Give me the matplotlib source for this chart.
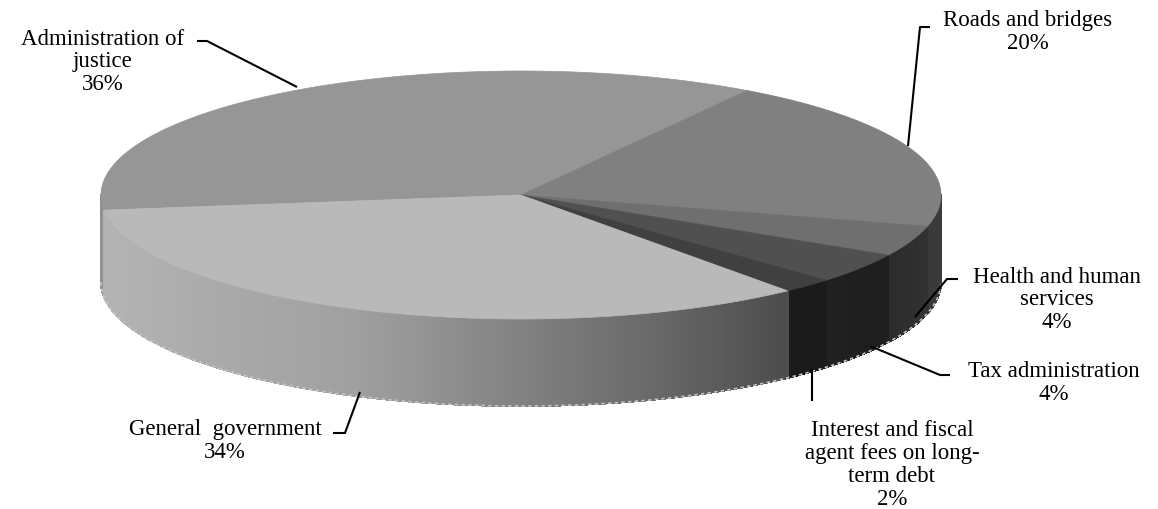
import numpy as np
import matplotlib
matplotlib.use("Agg")
from matplotlib import pyplot as plt
from matplotlib.collections import PolyCollection
from matplotlib.patches import Polygon

# data
categories = [
    "Administration of\njustice",
    "Roads and bridges",
    "Health and human\nservices",
    "Tax administration",
    "Interest and fiscal\nagent fees on long-\nterm debt",
    "General  government",
]
shares = [36, 20, 4, 4, 2, 34]
top_colors = ["#969696", "#808080", "#6f6f6f", "#505050", "#404040", "#b9b9b9"]

# pie geometry (pixel space, y down)
cx, cy = 521, 196
rx, ry = 420, 124
depth = 87
start = 187.0

# wall shading by x position
shade_x = [100, 360, 480, 650, 780, 880, 940]
shade_f = [0.97, 0.86, 0.74, 0.57, 0.42, 0.38, 0.46]


def ell(t):
    r = np.radians(t)
    return cx + rx * np.cos(r), cy - ry * np.sin(r)


def hex2rgb(h):
    h = h.lstrip("#")
    return np.array([int(h[k:k + 2], 16) for k in (0, 2, 4)]) / 255.0


fig = plt.figure(figsize=(11.58, 5.10), dpi=100)
ax = fig.add_axes([0, 0, 1, 1])
ax.set_xlim(0, 1158)
ax.set_ylim(510, 0)
ax.axis("off")

bounds = []
a = start
for v in shares:
    bounds.append((a, a - v * 3.6))
    a -= v * 3.6

# side walls
polys, cols = [], []
for (a0, a1), c in zip(bounds, top_colors):
    base = hex2rgb(c)
    ts = np.arange(a0, a1, -0.25)
    ts = np.append(ts, a1)
    for t0, t1 in zip(ts[:-1], ts[1:]):
        if np.sin(np.radians((t0 + t1) / 2)) >= 0:
            continue
        x0, y0 = ell(t0)
        x1, y1 = ell(t1)
        polys.append([(x0, y0), (x1, y1), (x1, y1 + depth), (x0, y0 + depth)])
        f = np.interp((x0 + x1) / 2, shade_x, shade_f)
        cols.append(np.clip(base * f, 0, 1))
ax.add_collection(PolyCollection(polys, facecolors=cols, edgecolors=cols,
                                 linewidths=0.8, antialiaseds=False))

# faint rim along the bottom edge
tb = np.linspace(180, 360, 400)
bx, by = ell(tb)
ax.plot(bx, by + depth, color="#c4c4c4", lw=1.2, ls=(0, (2, 2)))

# top face
for (a0, a1), c in zip(bounds, top_colors):
    ts = np.linspace(a0, a1, 200)
    xs, ys = ell(ts)
    pts = [(cx, cy)] + list(zip(xs, ys))
    ax.add_patch(Polygon(pts, closed=True, facecolor=c, edgecolor=c, lw=0.5))

# labels
font = dict(family="Liberation Serif", fontsize=16.5, ha="center", va="center",
            linespacing=1.12)
labels = [
    (categories[0] + "\n36%", 103, 62),
    (categories[1] + "\n20%", 1028, 32),
    (categories[2] + "\n4%", 1057, 300),
    (categories[3] + "\n4%", 1054, 383),
    (categories[4] + "\n2%", 892, 465),
    (categories[5] + "\n34%", 225, 441),
]
for txt, x, y in labels:
    ax.text(x, y, txt, **font)

leaders = [
    [(197, 42), (207, 42), (297, 88)],
    [(930, 28), (920, 28), (908, 147)],
    [(958, 280), (947, 280), (915, 318)],
    [(950, 376), (940, 376), (870, 347)],
    [(812, 370), (812, 402)],
    [(333, 434), (345, 434), (360, 393)],
]
for pts in leaders:
    xs, ys = zip(*pts)
    ax.plot(xs, ys, color="black", lw=1.5, solid_capstyle="butt")

fig.savefig("out.png", dpi=100)
